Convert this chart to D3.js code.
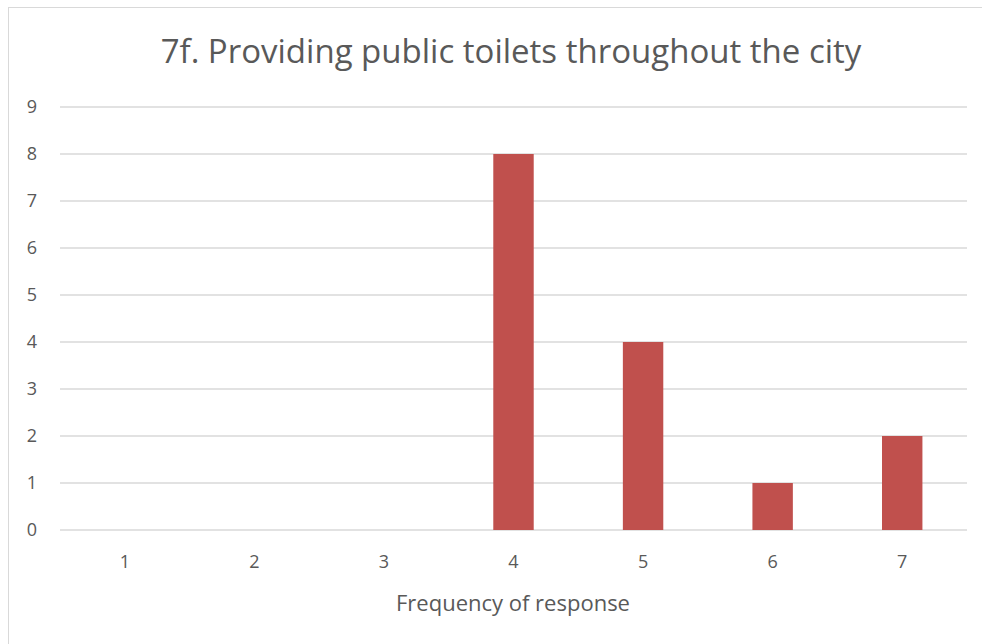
<!DOCTYPE html>
<html>
<head>
<meta charset="utf-8">
<script src="https://cdn.jsdelivr.net/npm/d3@7"></script>
<style>
  body { margin: 0; background: #fff; }
  text { font-family: "Open Sans", "Noto Sans", sans-serif; fill: #595959; }
</style>
</head>
<body>
<div id="chart"></div>
<script>
// categories and values
var categories = ["1", "2", "3", "4", "5", "6", "7"]
var counts = [0, 0, 0, 8, 4, 1, 2]
var yTicks = [0, 1, 2, 3, 4, 5, 6, 7, 8, 9]

var width = 982, height = 644
var plot = { left: 60, right: 967, top: 107, bottom: 530 }

let svg = d3.select("#chart")
    .append("svg")
    .attr("width", width)
    .attr("height", height)

// outer chart border (runs off the right/bottom of the picture)
svg.append("rect")
    .attr("x", 8.5)
    .attr("y", 7.5)
    .attr("width", 1000)
    .attr("height", 700)
    .style("fill", "#fff")
    .style("stroke", "#d9d9d9")
    .style("stroke-width", "1px")

// scales
var x = d3.scaleBand()
    .domain(categories)
    .range([plot.left, plot.right])
    .paddingInner(0.688)
    .paddingOuter(0.344)

var y = d3.scaleLinear()
    .domain([0, 9])
    .range([plot.bottom, plot.top])

// gridlines + y labels
svg.append("g")
    .selectAll("line")
    .data(yTicks)
    .enter().append("line")
        .attr("x1", plot.left)
        .attr("x2", plot.right)
        .attr("y1", function(d) { return y(d) })
        .attr("y2", function(d) { return y(d) })
        .style("stroke", "#d9d9d9")
        .style("stroke-width", "1.3px")

svg.append("g")
    .selectAll("text")
    .data(yTicks)
    .enter().append("text")
        .attr("x", 37)
        .attr("y", function(d) { return y(d) })
        .attr("dy", "0.35em")
        .style("text-anchor", "end")
        .style("font-size", "18px")
        .text(function(d) { return d })

// bars
svg.append("g")
    .selectAll("rect")
    .data(counts)
    .enter().append("rect")
        .attr("x", function(d, i) { return x(categories[i]) })
        .attr("y", function(d) { return y(d) })
        .attr("width", x.bandwidth())
        .attr("height", function(d) { return y(0) - y(d) })
        .style("fill", "#c0504d")

// x labels
svg.append("g")
    .selectAll("text")
    .data(categories)
    .enter().append("text")
        .attr("x", function(d) { return x(d) + x.bandwidth() / 2 })
        .attr("y", 562)
        .attr("dy", "0.35em")
        .style("text-anchor", "middle")
        .style("font-size", "18px")
        .text(function(d) { return d })

// axis title
svg.append("text")
    .attr("x", 513)
    .attr("y", 603)
    .attr("dy", "0.35em")
    .style("text-anchor", "middle")
    .style("font-size", "22px")
    .text("Frequency of response")

// chart title
svg.append("text")
    .attr("x", 511)
    .attr("y", 51)
    .attr("dy", "0.35em")
    .style("text-anchor", "middle")
    .style("font-size", "33px")
    .text("7f. Providing public toilets throughout the city")
</script>
</body>
</html>
